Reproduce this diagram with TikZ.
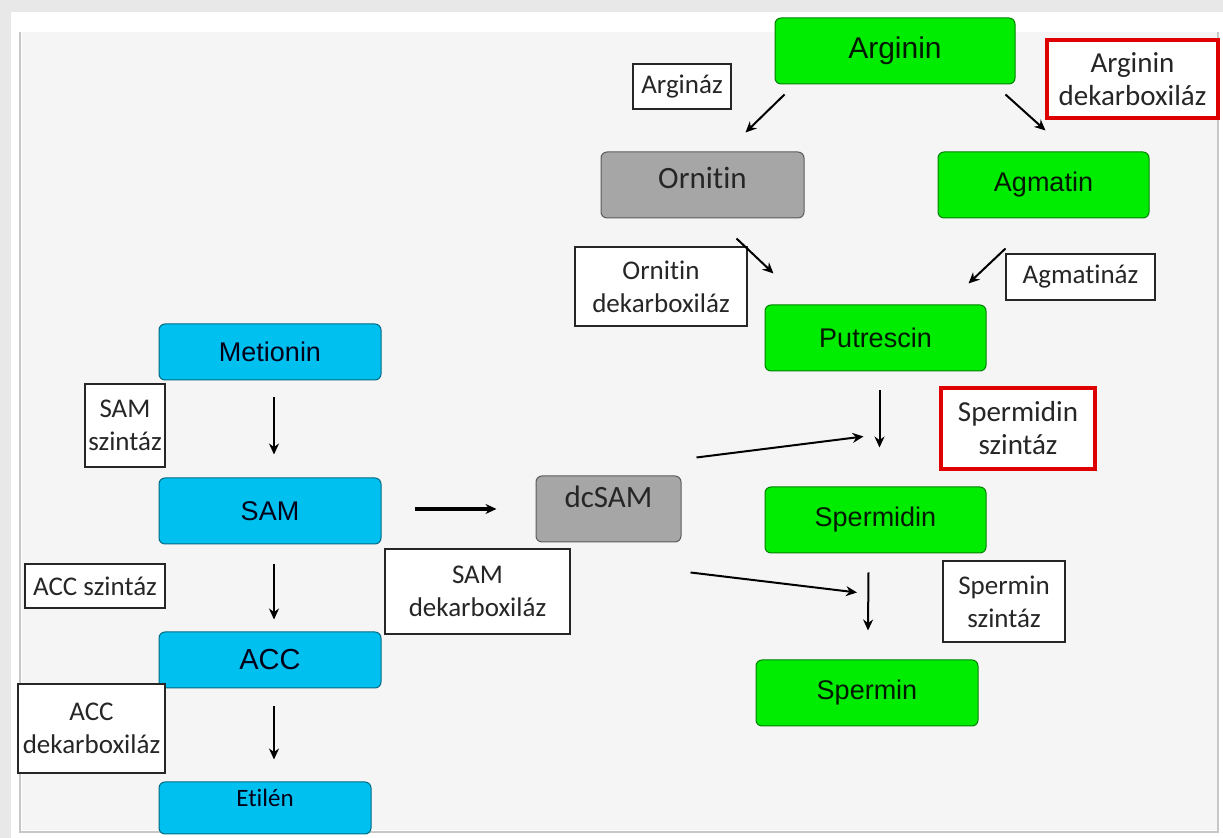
\documentclass[tikz,border=0pt]{standalone}
\usepackage{fontspec}
\setmainfont{Liberation Sans}
\newfontfamily\carlito[Ligatures={NoCommon}]{Carlito}
\usetikzlibrary{arrows.meta,calc}
\definecolor{vert}{RGB}{0,236,0}
\definecolor{bleu}{RGB}{0,192,240}
\definecolor{gris}{RGB}{166,166,166}
\definecolor{rouge}{RGB}{222,0,0}
\definecolor{fond}{RGB}{245,245,245}
\newcommand{\enzfont}{\carlito\fontsize{13.5}{16.5}\selectfont}
\tikzset{
  mol/.style={rounded corners=3pt, inner sep=0pt, line width=0.5pt,
    font=\fontsize{13.5}{16}\selectfont},
  poly/.style={mol, fill=vert, draw=vert!55!black, text=black!75!green!40!black},
  eth/.style={mol, fill=bleu, draw=bleu!55!black, text=black!80!blue!50!black},
  inter/.style={mol, fill=gris, draw=gris!55!black, text=black!85,
    font=\carlito\fontsize{15.5}{18}\selectfont},
  enz/.style={draw=black!85, fill=white, line width=0.7pt, align=center,
    inner sep=0pt, text=black!85, font=\enzfont},
  enzr/.style={enz, draw=rouge, line width=1.6pt,
    font=\carlito\fontsize{14.5}{16.5}\selectfont},
  fl/.style={-{Stealth[length=5.5pt,width=5pt]}, line width=1pt}
}

\begin{document}
\begin{tikzpicture}[x=0.5pt, y=-0.5pt]

    \useasboundingbox (0,0) rectangle (1223,838);

    % cadre
    \fill[black!9] (0,0) rectangle (1223,838);
    \fill[white] (11,12) rectangle (1223,838);
    \fill[fond] (22,32) rectangle (1218,830);
    \draw[black!22, line width=1.2pt] (20,32) -- (20,832) -- (1218,832) -- (1218,32);

    % poliaminok
    \node[poly, minimum width=120pt, minimum height=33pt,
      font=\fontsize{15}{17}\selectfont] (arg) at (895,51) {Arginin};
    \node[inter, minimum width=101.5pt, minimum height=33pt] (orn) at (702.5,185) {\raisebox{7pt}{Ornitin}};
    \node[poly, minimum width=105.5pt, minimum height=33pt] (agm) at (1043.5,185) {\raisebox{-3pt}{Agmatin}};
    \node[poly, minimum width=110.5pt, minimum height=33pt] (put) at (875.5,338) {Putrescin};
    \node[poly, minimum width=110.5pt, minimum height=33pt] (spd) at (875.5,520) {Spermidin};
    \node[poly, minimum width=111pt, minimum height=33pt] (spm) at (867,693) {Spermin};

    % etilen ag
    \node[eth, minimum width=111pt, minimum height=28pt] (met) at (270,352) {Metionin};
    \node[eth, minimum width=111pt, minimum height=33pt] (sam) at (270,511) {SAM};
    \node[eth, minimum width=111pt, minimum height=28pt,
      font=\fontsize{14.5}{17}\selectfont] (acc) at (270,660) {ACC};
    \node[eth, minimum width=106pt, minimum height=26pt,
      font=\carlito\fontsize{12.5}{15}\selectfont] (eti) at (265,808) {\raisebox{10pt}{Etilén}};
    \node[inter, minimum width=72.5pt, minimum height=33pt] (dcsam) at (608.5,509) {\raisebox{12pt}{dcSAM}};

    % enzimek
    \node[enz, minimum width=49pt, minimum height=22.5pt] (argaz) at (682,86.5) {Argináz};
    \node[enzr, minimum width=85.5pt, minimum height=39pt] (argdek) at (1132.5,79) {Arginin\\dekarboxiláz};
    \node[enz, minimum width=86pt, minimum height=39.5pt] (orndek) at (661,286.5) {Ornitin\\dekarboxiláz};
    \node[enz, minimum width=74.5pt, minimum height=23pt] (agmaz) at (1080.5,277) {Agmatináz};
    \node[enzr, minimum width=77pt, minimum height=40.5pt] (spdsz) at (1018,428.5) {Spermidin\\szintáz};
    \node[enz, minimum width=61pt, minimum height=40.5pt] (spmsz) at (1004,601.5) {Spermin\\szintáz};
    \node[enz, minimum width=40pt, minimum height=41.5pt] (samsz) at (125,425.5) {SAM\\szintáz};
    \node[enz, minimum width=92.5pt, minimum height=42.5pt] (samdek) at (477.5,591.5) {SAM\\dekarboxiláz};
    \node[enz, minimum width=70pt, minimum height=22pt] (accsz) at (95,586) {ACC szintáz};
    \node[enz, minimum width=73.5pt, minimum height=44.5pt] (accdek) at (91.5,728.5) {ACC\\dekarboxiláz};

    % nyilak
    \draw[fl] ($(arg.south west)+(10,10)$) -- ($(orn.north)+(43,-19)$);
    \draw[fl] ($(arg.south east)+(-10,10)$) -- ($(agm.north)+(2,-21)$);
    \draw[fl] ($(orn.south)+(34,20)$) -- ($(put.north west)+(9,-31)$);
    \draw[fl] ($(agm.south)+(-38,30)$) -- ($(put.north east)+(-18,-21)$);
    \draw[fl] ($(put.south)+(4,19)$) -- ($(spd.north)+(4,-39)$);
    \draw[fl] ($(dcsam.north east)+(15,-18)$) -- ($(spd.north)+(-12,-50)$);
    \draw[fl] ($(spd.south)+(-7,19)$) -- ($(spm.north)+(1,-29)$);
    \draw[fl] ($(dcsam.south east)+(9,30)$) -- ($(spm.north)+(-10,-67)$);
    \draw[fl, line width=1.6pt] ($(sam.east)+(33,-2)$) -- ($(dcsam.west)+(-39,0)$);
    \draw[fl] ($(met.south)+(4,17)$) -- ($(sam.north)+(4,-23)$);
    \draw[fl] ($(sam.south)+(4,20)$) -- ($(acc.north)+(4,-12)$);
    \draw[fl] ($(acc.south)+(4,18)$) -- ($(eti.north)+(9,-22)$);

\end{tikzpicture}
\end{document}
